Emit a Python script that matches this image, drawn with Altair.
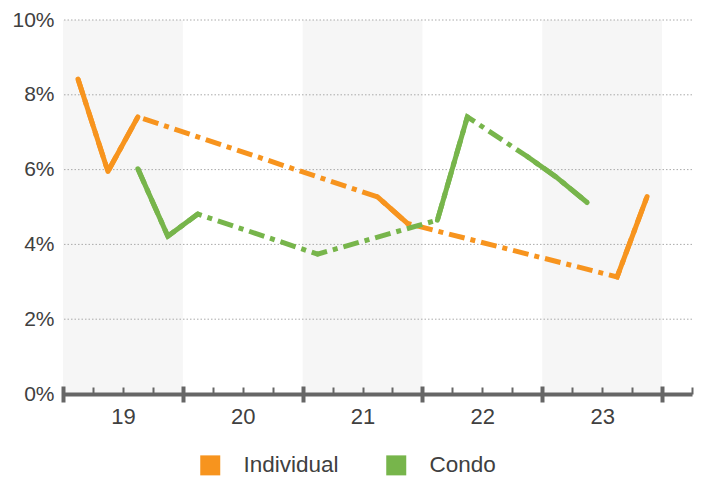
import json
import altair as alt
import pandas as pd

# ---- data (percent), one value per quarter 19Q1 .. 23Q4; None = no data ----
quarters = ["19Q1", "19Q2", "19Q3", "19Q4", "20Q1", "20Q2", "20Q3", "20Q4",
            "21Q1", "21Q2", "21Q3", "21Q4", "22Q1", "22Q2", "22Q3", "22Q4",
            "23Q1", "23Q2", "23Q3", "23Q4"]
individual = [8.42, 5.95, 7.41, None, None, None, None, None,
              None, None, 5.27, 4.56, None, None, None, None,
              None, None, 3.13, 5.28]
condo = [None, None, 6.02, 4.22, 4.81, None, None, None,
         3.74, None, None, None, 4.65, 7.41, None, 6.35,
         5.78, 5.12, None, None]
series_names = ["Individual", "Condo"]
series_colors = ["#F7941E", "#77B54B"]
year_labels = ["19", "20", "21", "22", "23"]
shaded_start = [0, 8, 16]     # quarter index where shaded years begin
shaded_end = [4, 12, 20]
y_ticks = [0, 2, 4, 6, 8, 10]

FONT = "Liberation Sans"
TXT = "#404040"
AX = "#666666"

rows = []
for name, vals in zip(series_names, [individual, condo]):
    seg = 0
    for i, v in enumerate(vals):
        if v is None:
            seg += 1
            continue
        rows.append({"series": name, "quarter": quarters[i], "q": i + 0.5,
                     "value": v, "seg": f"{name}-{seg}"})
df = pd.DataFrame(rows)
bands = pd.DataFrame({"start": shaded_start, "end": shaded_end})
grid = pd.DataFrame({"v": y_ticks})

nq = len(quarters) + 1
xscale = alt.Scale(domain=[0, nq], nice=False, zero=False)
yscale = alt.Scale(domain=[0, 10], nice=False)
cscale = alt.Scale(domain=series_names, range=series_colors)

axis_labels = alt.Axis(
    orient="bottom", values=[2 + 4 * k for k in range(len(year_labels))],
    labelExpr=f"{json.dumps(year_labels)}[floor(datum.value / 4)]",
    ticks=False, domain=True, domainColor=AX, domainWidth=4, grid=False,
    labelFontSize=22, labelColor=TXT, labelFont=FONT, labelPadding=12,
    title=None, zindex=1)
axis_minor = alt.Axis(
    orient="bottom", values=list(range(nq + 1)), labels=False, domain=False,
    ticks=True, tickSize=7, tickWidth=2, tickColor=AX, offset=-7, grid=False,
    title=None, zindex=1)
axis_major = alt.Axis(
    orient="bottom", values=list(range(0, nq, 4)), labels=False, domain=False,
    ticks=True, tickSize=16, tickWidth=4, tickColor=AX, offset=-8, grid=False,
    title=None, zindex=1)
axis_y = alt.Axis(
    orient="left", values=y_ticks, labelExpr="datum.value + '%'", ticks=False,
    domain=False, grid=False, labelFontSize=21, labelColor=TXT,
    labelFont=FONT, labelPadding=9, title=None)

band_layer = alt.Chart(bands).mark_rect(color="#f6f6f6").encode(
    x=alt.X("start:Q", scale=xscale, axis=axis_labels),
    x2="end:Q",
    y=alt.YDatum(10, scale=yscale, axis=axis_y),
    y2=alt.Y2Datum(0),
)

grid_layer = alt.Chart(grid).mark_rule(
    color="#aaaaaa", strokeWidth=1, strokeDash=[1.5, 2]).encode(
    y=alt.Y("v:Q", scale=yscale),
)

legend_layer = alt.Chart(df).mark_square(size=0, filled=True, opacity=1).encode(
    x=alt.X("q:Q", scale=xscale, axis=None),
    y=alt.Y("value:Q", scale=yscale),
    color=alt.Color("series:N", scale=cscale, sort=series_names, legend=alt.Legend(
        title=None, orient="none", legendX=136, legendY=434,
        direction="horizontal", symbolType="square", symbolSize=400,
        symbolStrokeWidth=0, symbolOpacity=1, labelFontSize=22.5,
        labelFont=FONT, labelColor=TXT, labelOffset=22, columnPadding=46,
        padding=0, labelLimit=300)),
)

dash_layer = alt.Chart(df).mark_line(
    strokeWidth=5, strokeDash=[16, 6, 5, 6], strokeCap="butt").encode(
    x=alt.X("q:Q", scale=xscale, axis=axis_minor),
    y=alt.Y("value:Q", scale=yscale),
    color=alt.Color("series:N", scale=cscale, sort=series_names),
    detail="series:N",
)

solid_layer = alt.Chart(df).mark_line(
    strokeWidth=5, strokeCap="round", strokeJoin="round").encode(
    x=alt.X("q:Q", scale=xscale, axis=axis_major),
    y=alt.Y("value:Q", scale=yscale),
    color=alt.Color("series:N", scale=cscale, sort=series_names),
    detail="seg:N",
)

chart = alt.layer(band_layer, grid_layer, legend_layer, dash_layer, solid_layer).resolve_axis(
    x="independent").properties(
    width=629, height=374,
    autosize=alt.AutoSizeParams(type="none"),
    padding={"left": 55, "top": 12, "right": 6, "bottom": 82},
).configure_view(stroke=None)

chart.save("out.html", embed_options={"renderer": "svg", "actions": False})
